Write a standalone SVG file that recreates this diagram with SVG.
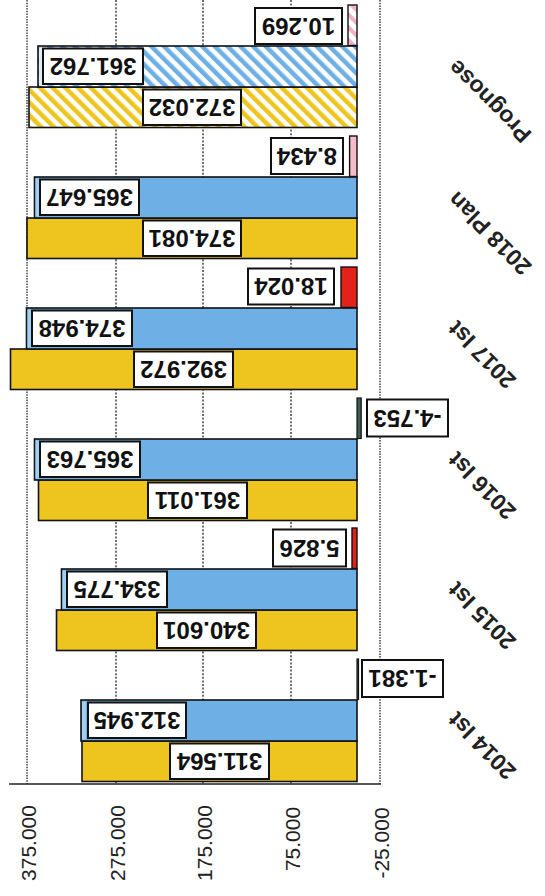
<svg xmlns="http://www.w3.org/2000/svg" width="545" height="896" viewBox="0 0 545 896">
<defs>
<style>
.bg{fill:#ffffff}
.grid{stroke:#222;stroke-width:1.3;stroke-dasharray:2 1.6;fill:none}
.gridE{stroke:#333;stroke-width:1.4;stroke-dasharray:1.5 1.2;fill:none}
.axis{stroke:#222;stroke-width:1.5;fill:none}
.y{fill:#EEC51E;stroke:#111;stroke-width:1.6}
.b{fill:#6EB0E6;stroke:#111;stroke-width:1.6}
.bl{fill:#9FD0F2;stroke:none}
.red{fill:#E3231B;stroke:#111;stroke-width:1.4}
.pink{fill:#F4BCCB;stroke:#111;stroke-width:1.4}
.neg{fill:#3D5E55;stroke:#111;stroke-width:1.2}
.box{fill:#ffffff;stroke:#111;stroke-width:2}
.lbl{font-family:"Liberation Sans",Arial,sans-serif;font-weight:bold;font-size:24px;fill:#111;text-anchor:middle;dominant-baseline:central}
.tick{font-family:"Liberation Sans",Arial,sans-serif;font-size:21px;fill:#222;text-anchor:middle;dominant-baseline:central}
.cat{font-family:"Liberation Sans",Arial,sans-serif;font-weight:bold;font-size:23px;fill:#222;text-anchor:end;dominant-baseline:central}
</style>
<pattern id="hy" patternUnits="userSpaceOnUse" width="9" height="9" patternTransform="rotate(-45)">
<rect width="9" height="9" fill="#ffffff"/>
<rect width="4.5" height="9" fill="#EEC51E"/>
</pattern>
<pattern id="hb" patternUnits="userSpaceOnUse" width="9" height="9" patternTransform="rotate(-45)">
<rect width="9" height="9" fill="#ffffff"/>
<rect width="4.5" height="9" fill="#6EB0E6"/>
</pattern>
<pattern id="hp" patternUnits="userSpaceOnUse" width="9" height="9" patternTransform="rotate(-45)">
<rect width="9" height="9" fill="#ffffff"/>
<rect width="4" height="9" fill="#F2B0C6"/>
</pattern>
</defs>
<rect class="bg" x="0" y="0" width="545" height="896"/>
<g id="grid">
<line class="gridE" x1="27" y1="0" x2="27" y2="784"/>
<line class="grid" x1="116" y1="0" x2="116" y2="784"/>
<line class="grid" x1="203" y1="0" x2="203" y2="784"/>
<line class="grid" x1="291" y1="0" x2="291" y2="784"/>
<line class="gridE" x1="380" y1="0" x2="380" y2="784"/>
<line class="axis" x1="9" y1="784" x2="381" y2="784"/>
</g>
<g id="axis-labels">
<text class="tick" transform="translate(28,843) rotate(-90)">375.000</text>
<text class="tick" transform="translate(117,843) rotate(-90)">275.000</text>
<text class="tick" transform="translate(204,843) rotate(-90)">175.000</text>
<text class="tick" transform="translate(292,839) rotate(-90)">75.000</text>
<text class="tick" transform="translate(381,843) rotate(-90)">-25.000</text>
</g>
<g id="cat-2014">
<rect class="y" x="82" y="741" width="275" height="40.5"/>
<rect class="b" x="81" y="700" width="276" height="41"/>
<rect class="bl" x="82" y="701.5" width="4" height="38"/>
<rect class="neg" x="357" y="659" width="1.5" height="40.5"/>
<rect class="box" x="170" y="743.5" width="99" height="35.5"/><text class="lbl" transform="rotate(180 219.5 761.2)" x="219.5" y="761.2">311.564</text>
<rect class="box" x="88" y="702.5" width="98" height="35.5"/><text class="lbl" transform="rotate(180 137 720.2)" x="137" y="720.2">312.945</text>
<rect class="box" x="362" y="660" width="81" height="37"/><text class="lbl" transform="rotate(180 402.5 678.5)" x="402.5" y="678.5">-1.381</text>
<text class="cat" transform="translate(452,716) rotate(225)">2014 Ist</text>
</g>
<g id="cat-2015">
<rect class="y" x="56.5" y="610" width="300.5" height="40.5"/>
<rect class="b" x="61.5" y="569" width="295.5" height="41"/>
<rect class="bl" x="62.5" y="570.5" width="4" height="38"/>
<rect class="red" x="352" y="528" width="5" height="40.5"/>
<rect class="box" x="157" y="612.5" width="99" height="35.5"/><text class="lbl" transform="rotate(180 206.5 630.2)" x="206.5" y="630.2">340.601</text>
<rect class="box" x="67" y="571.5" width="100" height="35.5"/><text class="lbl" transform="rotate(180 117 589.2)" x="117" y="589.2">334.775</text>
<rect class="box" x="273" y="529.5" width="73" height="37"/><text class="lbl" transform="rotate(180 309.5 548)" x="309.5" y="548">5.826</text>
<text class="cat" transform="translate(452,586) rotate(225)">2015 Ist</text>
</g>
<g id="cat-2016">
<rect class="y" x="38.5" y="480" width="318.5" height="40.5"/>
<rect class="b" x="34.5" y="439" width="322.5" height="41"/>
<rect class="bl" x="35.5" y="440.5" width="4" height="38"/>
<rect class="neg" x="357" y="398" width="4.2" height="40.5"/>
<rect class="box" x="148" y="482.5" width="99" height="35.5"/><text class="lbl" transform="rotate(180 197.5 500.2)" x="197.5" y="500.2">361.011</text>
<rect class="box" x="40" y="441.5" width="100" height="35.5"/><text class="lbl" transform="rotate(180 90 459.2)" x="90" y="459.2">365.763</text>
<rect class="box" x="367" y="399.5" width="81" height="37"/><text class="lbl" transform="rotate(180 407.5 418)" x="407.5" y="418">-4.753</text>
<text class="cat" transform="translate(452,456) rotate(225)">2016 Ist</text>
</g>
<g id="cat-2017">
<rect class="y" x="10.5" y="349" width="346.5" height="40.5"/>
<rect class="b" x="26.5" y="308" width="330.5" height="41"/>
<rect class="bl" x="27.5" y="309.5" width="4" height="38"/>
<rect class="red" x="341" y="267" width="16" height="40.5"/>
<rect class="box" x="134" y="351.5" width="99" height="35.5"/><text class="lbl" transform="rotate(180 183.5 369.2)" x="183.5" y="369.2">392.972</text>
<rect class="box" x="32" y="310.5" width="100" height="35.5"/><text class="lbl" transform="rotate(180 82 328.2)" x="82" y="328.2">374.948</text>
<rect class="box" x="248" y="268.5" width="86" height="36"/><text class="lbl" transform="rotate(180 291 286.5)" x="291" y="286.5">18.024</text>
<text class="cat" transform="translate(452,325) rotate(225)">2017 Ist</text>
</g>
<g id="cat-2018-plan">
<rect class="y" x="27" y="218" width="330" height="40.5"/>
<rect class="b" x="34.5" y="177" width="322.5" height="41"/>
<rect class="bl" x="35.5" y="178.5" width="4" height="38"/>
<rect class="pink" x="349.6" y="136" width="7.4" height="40.5"/>
<rect class="box" x="143" y="220.5" width="98" height="35.5"/><text class="lbl" transform="rotate(180 192 238.2)" x="192" y="238.2">374.081</text>
<rect class="box" x="40" y="179.5" width="99" height="35.5"/><text class="lbl" transform="rotate(180 89.5 197.2)" x="89.5" y="197.2">365.647</text>
<rect class="box" x="271" y="138" width="72" height="36"/><text class="lbl" transform="rotate(180 307 156)" x="307" y="156">8.434</text>
<text class="cat" transform="translate(452,196) rotate(225)">2018 Plan</text>
</g>
<g id="cat-prognose">
<rect x="29" y="87" width="328" height="40.5" fill="url(#hy)" stroke="#111" stroke-width="1.6"/>
<rect x="38" y="46" width="319" height="41" fill="url(#hb)" stroke="#111" stroke-width="1.6"/>
<rect x="39" y="47.5" width="4" height="38" fill="#DCEFFB"/>
<rect x="348" y="5" width="9" height="40.5" fill="url(#hp)" stroke="#111" stroke-width="1.4"/>
<rect class="box" x="143" y="89.5" width="98" height="35.5"/><text class="lbl" transform="rotate(180 192 107.2)" x="192" y="107.2">372.032</text>
<rect class="box" x="43" y="48.5" width="100" height="35.5"/><text class="lbl" transform="rotate(180 93 66.2)" x="93" y="66.2">361.762</text>
<rect class="box" x="255" y="8" width="87" height="36"/><text class="lbl" transform="rotate(180 298.5 26)" x="298.5" y="26">10.269</text>
<text class="cat" transform="translate(452,64) rotate(225)">Prognose</text>
</g>
</svg>
